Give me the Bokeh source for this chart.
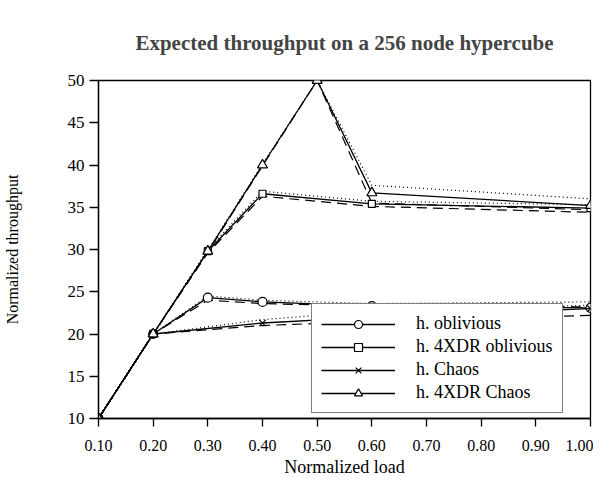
from bokeh.plotting import figure
from bokeh.models import Range1d, FixedTicker, NumeralTickFormatter, Legend, LegendItem
from bokeh.embed import file_html
from bokeh.resources import INLINE

# ---- data ----
x_ticks = [0.1, 0.2, 0.3, 0.4, 0.5, 0.6, 0.7, 0.8, 0.9, 1.0]
y_ticks = [10, 15, 20, 25, 30, 35, 40, 45, 50]

x_obl = [0.1, 0.2, 0.3, 0.4, 0.6, 1.0]
obl = [10, 20, 24.3, 23.8, 23.3, 23.1]
obl_dotted = [10, 20, 24.5, 24.0, 23.6, 23.8]
obl_dashed = [10, 20, 24.0, 23.6, 23.3, 23.2]

x_xobl = [0.1, 0.2, 0.3, 0.4, 0.6, 1.0]
xobl = [10, 20, 29.8, 36.6, 35.4, 34.9]
xobl_dotted = [10, 20, 30.0, 36.9, 35.7, 35.3]
xobl_dashed = [10, 20, 29.6, 36.3, 35.1, 34.4]

x_chaos = [0.1, 0.2, 0.4, 0.6, 1.0]
chaos = [10, 20, 21.3, 22.0, 23.0]
chaos_dotted = [10, 20, 21.7, 22.7, 23.4]
chaos_dashed = [10, 20, 21.0, 21.5, 22.2]

x_xchaos = [0.1, 0.2, 0.3, 0.4, 0.5, 0.6, 1.0]
xchaos = [10, 20, 29.8, 40, 50, 36.7, 35.2]
xchaos_dotted = [10, 20, 29.9, 40.1, 50, 37.6, 36.0]
xchaos_dashed = [10, 20, 29.7, 39.9, 50, 35.5, 34.7]

labels = ["h. oblivious", "h. 4XDR oblivious", "h. Chaos", "h. 4XDR Chaos"]

FONT = "Liberation Serif"

p = figure(width=593, height=479, output_backend="svg", toolbar_location=None,
           x_range=Range1d(0.1, 1.0), y_range=Range1d(10, 50),
           min_border_left=97, min_border_right=3, min_border_top=80, min_border_bottom=61)

p.title.text = "Expected throughput on a 256 node hypercube"
p.title.text_font = FONT
p.title.text_font_size = "21px"
p.title.text_font_style = "bold"
p.title.align = "center"
p.title.standoff = 51

p.xgrid.visible = False
p.ygrid.visible = False
p.outline_line_color = "black"
p.outline_line_width = 1.3
p.background_fill_color = "white"
p.border_fill_color = "white"

for ax in (p.xaxis[0], p.yaxis[0]):
    ax.axis_line_color = "black"
    ax.axis_line_width = 1.3
    ax.major_tick_line_color = "black"
    ax.major_tick_line_width = 1.3
    ax.major_tick_in = 0
    ax.minor_tick_line_color = None
    ax.major_label_text_font = FONT
    ax.major_label_text_color = "black"
    ax.axis_label_text_font = FONT
    ax.axis_label_text_font_style = "normal"
    ax.axis_label_text_color = "black"

p.xaxis.ticker = FixedTicker(ticks=x_ticks)
p.xaxis.formatter = NumeralTickFormatter(format="0.00")
p.xaxis.major_tick_out = 8
p.xaxis.major_label_standoff = 13
p.xaxis.major_label_text_font_size = "16px"
p.xaxis.axis_label = "Normalized load"
p.xaxis.axis_label_text_font_size = "18px"
p.xaxis.axis_label_standoff = 3

p.yaxis.ticker = FixedTicker(ticks=y_ticks)
p.yaxis.formatter = NumeralTickFormatter(format="0")
p.yaxis.major_tick_out = 9
p.yaxis.major_label_standoff = 5
p.yaxis.major_label_text_font_size = "17px"
p.yaxis.axis_label = "Normalized throughput"
p.yaxis.axis_label_text_font_size = "16px"
p.yaxis.axis_label_standoff = 44

series = [
    (x_obl, obl, obl_dotted, obl_dashed, "circle", 9),
    (x_xobl, xobl, xobl_dotted, xobl_dashed, "square", 7),
    (x_chaos, chaos, chaos_dotted, chaos_dashed, "x", 9),
    (x_xchaos, xchaos, xchaos_dotted, xchaos_dashed, "triangle", 10),
]

items = []
for (xs, ys, ydot, ydash, mk, sz), lab in zip(series, labels):
    p.line(xs, ydot, line_color="black", line_width=1.2, line_dash="1 3")
    p.line(xs, ydash, line_color="black", line_width=1.2, line_dash="10 6")
for (xs, ys, ydot, ydash, mk, sz), lab in zip(series, labels):
    lr = p.line(xs, ys, line_color="black", line_width=1.3)
    mr = p.scatter(xs, ys, marker=mk, size=sz, line_color="black", line_width=1.2,
                   fill_color="white")
    items.append(LegendItem(label=lab, renderers=[lr, mr]))

legend = Legend(items=items, location=(213, 5))
legend.label_text_font = FONT
legend.label_text_font_size = "18px"
legend.label_text_color = "black"
legend.glyph_width = 74
legend.glyph_height = 20
legend.label_height = 20
legend.label_standoff = 21
legend.spacing = 2
legend.padding = 9
legend.margin = 0
legend.border_line_color = "black"
legend.border_line_width = 1.3
legend.background_fill_alpha = 1.0
legend.click_policy = "none"
p.add_layout(legend, "center")

open("out.html", "w").write(file_html(p, INLINE))
